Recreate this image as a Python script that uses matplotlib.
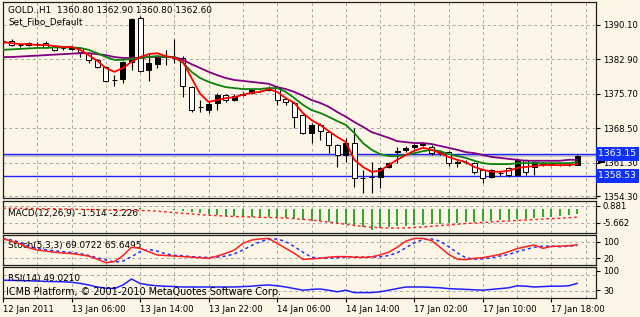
import numpy as np
import matplotlib.pyplot as plt
from matplotlib.patches import Rectangle
from matplotlib.transforms import blended_transform_factory

# ---- GOLD H1 candles (12 Jan 22:00 .. 17 Jan 21:00) ----
opens = [1386.5, 1386.75, 1385.9, 1386.0, 1386.2, 1386.3, 1385.5, 1385.2, 1385.1, 1385.3,
         1384.2, 1382.8, 1381.3, 1378.5, 1378.8, 1382.4, 1391.5, 1380.7, 1381.9, 1383.4,
         1383.5, 1383.2, 1377.1, 1372.9, 1372.3, 1373.8, 1375.4, 1374.4, 1375.5, 1375.8,
         1376.3, 1376.4, 1377.1, 1374.6, 1373.8, 1371.3, 1367.5, 1369.2, 1367.7, 1365.0,
         1362.9, 1365.4, 1358.1, 1358.2, 1358.3, 1360.4, 1363.6, 1364.0, 1364.5, 1365.0,
         1364.6, 1363.3, 1363.5, 1361.3, 1361.5, 1361.3, 1359.8, 1358.3, 1359.2, 1360.1,
         1358.7, 1361.8, 1360.4, 1361.1, 1360.9, 1360.8, 1360.9, 1360.8]
highs = [1387.0, 1387.2, 1386.3, 1386.6, 1386.6, 1386.8, 1385.8, 1385.6, 1385.7, 1385.6,
         1384.4, 1383.0, 1381.5, 1379.6, 1382.6, 1391.6, 1391.9, 1384.2, 1383.7, 1384.9,
         1387.2, 1383.6, 1377.3, 1374.4, 1373.9, 1375.8, 1375.7, 1375.6, 1376.0, 1376.7,
         1376.6, 1377.4, 1377.3, 1374.9, 1374.0, 1371.5, 1369.5, 1369.6, 1368.0, 1365.3,
         1366.5, 1368.5, 1359.8, 1361.4, 1360.4, 1361.5, 1364.6, 1364.7, 1365.2, 1365.6,
         1365.0, 1363.9, 1363.8, 1361.8, 1361.8, 1361.5, 1360.0, 1360.0, 1359.6, 1360.4,
         1362.2, 1362.0, 1361.7, 1361.5, 1361.2, 1361.2, 1361.2, 1362.9]
lows = [1386.2, 1385.7, 1385.5, 1385.8, 1385.7, 1385.3, 1384.6, 1384.9, 1384.9, 1383.4,
        1382.1, 1381.0, 1378.2, 1377.3, 1377.9, 1380.7, 1380.3, 1378.4, 1381.1, 1381.7,
        1382.1, 1375.0, 1372.0, 1371.9, 1371.6, 1372.3, 1374.0, 1374.2, 1375.2, 1375.6,
        1376.0, 1376.2, 1373.4, 1373.3, 1368.6, 1367.2, 1365.4, 1366.0, 1363.3, 1360.4,
        1361.4, 1356.2, 1355.0, 1355.0, 1356.0, 1360.1, 1361.3, 1363.6, 1364.2, 1364.7,
        1363.0, 1362.9, 1360.7, 1360.4, 1361.0, 1358.9, 1357.0, 1358.0, 1358.6, 1358.4,
        1358.5, 1358.7, 1358.8, 1360.6, 1360.5, 1360.5, 1360.6, 1360.8]
closes = [1386.7, 1385.9, 1385.95, 1386.3, 1386.1, 1385.5, 1384.9, 1385.3, 1385.4, 1384.4,
          1382.8, 1381.3, 1378.4, 1378.6, 1382.4, 1391.4, 1380.5, 1382.2, 1383.4, 1383.5,
          1383.3, 1377.3, 1372.3, 1373.0, 1373.6, 1375.4, 1374.4, 1375.2, 1375.6, 1376.4,
          1376.3, 1377.0, 1374.4, 1374.0, 1370.9, 1367.5, 1369.2, 1367.9, 1365.0, 1362.9,
          1365.4, 1358.1, 1358.0, 1358.3, 1360.2, 1361.2, 1363.8, 1364.4, 1364.9, 1365.3,
          1363.3, 1363.5, 1361.2, 1361.5, 1361.4, 1359.3, 1358.1, 1359.8, 1359.1, 1358.7,
          1361.8, 1359.3, 1361.4, 1361.0, 1360.9, 1360.9, 1360.8, 1362.6]

# moving averages
ma_red = [1386.5, 1386.3, 1386.1, 1386.1, 1385.9, 1385.9, 1385.7, 1385.5, 1385.5, 1384.9,
          1383.8, 1382.6, 1381.1, 1380.3, 1381.1, 1382.4, 1383.4, 1384.0, 1384.2, 1383.6,
          1383.2, 1382.4, 1379.0, 1375.7, 1374.0, 1374.4, 1374.8, 1375.0, 1375.5, 1375.9,
          1376.1, 1376.7, 1376.1, 1374.8, 1373.8, 1371.7, 1370.2, 1369.2, 1367.9, 1366.7,
          1365.6, 1361.9, 1360.4, 1359.4, 1359.6, 1360.8, 1361.9, 1362.9, 1363.8, 1364.4,
          1364.0, 1363.3, 1362.5, 1361.9, 1361.4, 1360.4, 1359.8, 1359.4, 1359.4, 1359.6,
          1360.2, 1360.4, 1360.6, 1360.8, 1360.8, 1360.8, 1360.8, 1361.0]
ma_green = [1384.9, 1385.0, 1385.1, 1385.2, 1385.3, 1385.3, 1385.4, 1385.4, 1385.4, 1385.3,
            1384.9, 1384.2, 1383.4, 1382.8, 1382.8, 1383.0, 1383.2, 1383.4, 1383.6, 1383.4,
            1383.4, 1382.2, 1380.3, 1379.0, 1378.2, 1377.6, 1377.1, 1376.9, 1376.7, 1376.7,
            1376.7, 1376.9, 1376.9, 1376.1, 1374.8, 1373.4, 1372.3, 1371.7, 1370.9, 1370.0,
            1369.2, 1367.5, 1365.4, 1364.0, 1363.1, 1362.7, 1362.7, 1362.9, 1363.3, 1363.7,
            1364.0, 1363.7, 1363.1, 1362.7, 1362.3, 1361.7, 1361.2, 1361.0, 1361.0, 1361.0,
            1361.2, 1361.2, 1361.2, 1361.2, 1361.2, 1361.2, 1361.2, 1361.4]
ma_purple = [1383.4, 1383.4, 1383.5, 1383.6, 1383.7, 1383.8, 1383.9, 1384.0, 1384.1, 1384.2,
             1384.2, 1384.0, 1383.8, 1383.4, 1383.2, 1383.2, 1383.2, 1383.4, 1383.4, 1383.4,
             1383.4, 1382.8, 1381.9, 1381.1, 1380.3, 1379.6, 1379.0, 1378.6, 1378.4, 1378.2,
             1378.0, 1377.8, 1377.1, 1376.7, 1376.1, 1375.3, 1374.4, 1373.8, 1373.0, 1371.9,
             1370.9, 1369.8, 1368.8, 1367.7, 1367.1, 1366.5, 1365.8, 1365.6, 1365.4, 1365.4,
             1365.2, 1364.8, 1364.4, 1364.0, 1363.5, 1363.3, 1362.9, 1362.5, 1362.3, 1362.1,
             1361.9, 1361.7, 1361.7, 1361.7, 1361.7, 1361.7, 1361.9, 1361.9]

# MACD(12,26,9)
macd_hist = [0.1, 0.1, 0.05, 0.05, 0.0, 0.0, -0.05, -0.05, -0.1, -0.1,
             -0.15, -0.2, -0.25, -0.3, -0.2, 0.1, 0.2, 0.1, 0.0, -0.1,
             -0.2, -0.5, -0.83, -1.1, -1.38, -1.65, -1.93, -1.93, -2.2, -2.2,
             -2.2, -2.2, -2.48, -2.48, -2.75, -3.03, -3.3, -3.3, -3.58, -3.85,
             -4.13, -4.68, -4.95, -5.66, -5.23, -4.95, -4.68, -4.68, -4.4, -4.4,
             -4.13, -4.13, -3.85, -3.85, -3.58, -3.58, -3.3, -3.3, -3.03, -3.03,
             -2.75, -2.75, -2.48, -2.2, -2.2, -1.93, -1.65, -1.51]
macd_signal = [0.2, 0.2, 0.18, 0.15, 0.12, 0.1, 0.05, 0.0, -0.05, -0.1,
               -0.15, -0.2, -0.28, -0.35, -0.4, -0.4, -0.4, -0.45, -0.6, -0.8,
               -1.0, -1.18, -1.35, -1.55, -1.7, -1.84, -1.95, -2.05, -2.12, -2.2,
               -2.28, -2.35, -2.39, -2.5, -2.65, -2.85, -3.03, -3.3, -3.6, -3.9,
               -4.2, -4.5, -4.8, -5.0, -5.15, -5.23, -5.23, -5.2, -5.1, -4.95,
               -4.75, -4.55, -4.4, -4.2, -4.0, -3.85, -3.7, -3.55, -3.4, -3.3,
               -3.15, -3.0, -2.9, -2.75, -2.65, -2.55, -2.4, -2.23]

# Stochastic(5,3,3)
stoch_k = [91, 82, 72, 58, 50, 46, 42, 39, 37, 33, 28, 17, 4, 8, 30, 60, 56, 44, 32, 30,
           28, 26, 24, 22, 20, 28, 38, 50, 74, 86, 90, 92, 74, 56, 38, 16, 18, 20, 24, 26,
           26, 24, 23, 25, 32, 42, 60, 82, 92, 92, 84, 60, 34, 17, 15, 20, 22, 28, 34, 44,
           55, 62, 68, 56, 63, 64, 65, 69.07]
stoch_d = [92, 86, 78, 64, 55, 51, 47, 44, 41, 37, 30, 22, 14, 6, 10, 26, 44, 52, 46, 36,
           31, 29, 26, 24, 23, 24, 28, 36, 50, 66, 80, 88, 90, 80, 62, 42, 24, 20, 20, 22,
           25, 25, 24, 24, 25, 30, 40, 58, 76, 88, 90, 82, 62, 40, 22, 17, 18, 22, 28, 34,
           44, 52, 60, 64, 64, 62, 64, 65.65]

# RSI(14)
rsi = [57, 56.5, 56, 55.5, 55, 54, 53.5, 53, 52, 49, 45, 40, 37, 36, 45, 60, 49, 45, 43, 42,
       41, 40, 40, 40, 40, 40, 40, 40, 41, 42, 44, 45, 43, 40, 36, 32, 34, 35, 32, 28,
       32, 26, 26, 26, 28, 32, 36, 40, 40, 40, 39, 38, 36, 35, 34, 33, 32, 34, 36, 38,
       43, 42, 40, 41, 42, 42, 43, 49.02]

price_ticks = [1390.10, 1382.90, 1375.70, 1368.50, 1361.30, 1354.30]
fibo_levels = [1363.15, 1358.53]
last_price = 1362.60
time_labels = ['12 Jan 2011', '13 Jan 06:00', '13 Jan 14:00', '13 Jan 22:00', '14 Jan 06:00',
               '14 Jan 14:00', '17 Jan 02:00', '17 Jan 10:00', '17 Jan 18:00']

W, H = 640, 317
BG = '#fdf6e6'
GRID = dict(color='#a8a8a8', linestyle=(0, (3, 3)), linewidth=0.7)
FS = 6.1

fig = plt.figure(figsize=(W / 100, H / 100), dpi=100, facecolor=BG)
plt.rcParams['font.family'] = ['DejaVu Sans']

n = len(closes)
idx = np.arange(n)
xmax = 593 / 8.57


def panel(top, bottom):
    ax = fig.add_axes([3 / W, 1 - bottom / H, 593 / W, (bottom - top) / H], facecolor=BG)
    ax.set_xlim(0, xmax)
    ax.set_xticks(np.arange(0, xmax, 8))
    ax.set_xticks(np.arange(4, xmax, 8), minor=True)
    ax.tick_params(axis='x', which='both', length=0, labelbottom=False)
    ax.yaxis.tick_right()
    ax.tick_params(axis='y', length=3, width=0.8, pad=2, labelsize=FS, colors='black')
    ax.grid(True, which='both', axis='x', **GRID)
    ax.grid(True, which='major', axis='y', **GRID)
    for s in ax.spines.values():
        s.set_color('#202020')
        s.set_linewidth(0.9)
    ax.set_axisbelow(True)
    return ax


# ---- main price panel ----
ax = panel(2, 198)
ax.set_ylim(1353.91, 1394.91)
ax.set_yticks(price_ticks, ['%.2f' % p for p in price_ticks])

O, Hh, L, C = map(np.array, (opens, highs, lows, closes))
ax.vlines(idx, L, Hh, color='black', lw=0.8, zorder=3)
bull = C >= O
body = np.maximum(np.abs(C - O), 0.05)
ax.bar(idx, body, bottom=np.minimum(O, C), width=0.58,
       color=np.where(bull, 'black', 'white'), edgecolor='black', lw=0.7, zorder=4)

ax.plot(idx, ma_purple, color='#800080', lw=1.3, zorder=5)
ax.plot(idx, ma_green, color='#0a820a', lw=1.3, zorder=5)
ax.plot(idx, ma_red, color='#ff0000', lw=1.3, zorder=6)

for lv in fibo_levels:
    ax.axhline(lv, color='#2020ff', lw=1.0, zorder=2)
ax.axhline(last_price, color='#c0c0c0', lw=1.2, zorder=1)

tr = blended_transform_factory(ax.transAxes, ax.transData)
# bid-price box mostly hidden behind the fibo label
ax.add_patch(Rectangle((1.003, last_price - 1.45), 0.012, 1.2, transform=tr,
                       fc='black', ec='none', clip_on=False, zorder=8))
for lv in fibo_levels:
    ax.text(1.004, lv, '%.2f' % lv, transform=tr, fontsize=FS + 0.6, color='white',
            va='center', ha='left', clip_on=False, zorder=9,
            bbox=dict(boxstyle='square,pad=0.25', fc='#1030ff', ec='none'))

fig.text(8 / W, 1 - 10 / H, 'GOLD.,H1  1360.80 1362.90 1360.80 1362.60', fontsize=FS + 0.3,
         va='center', ha='left')
fig.text(8 / W, 1 - 22 / H, 'Set_Fibo_Default', fontsize=FS + 0.3, va='center', ha='left')

# ---- MACD panel ----
axm = panel(201, 233)
axm.set_ylim(-6.6, 2.2)
axm.set_yticks([0.881, -3.8], ['0.881', '-5.662'])
axm.vlines(idx, 0, macd_hist, color='#22a022', lw=1.3, zorder=3)
axm.plot(idx, macd_signal, color='#ff2020', lw=1.0, linestyle=(0, (2, 2)), zorder=4)
axm.text(5 / 593, 0.62, 'MACD(12,26,9) -1.514 -2.226', transform=axm.transAxes,
         fontsize=FS + 0.3, va='center', ha='left')

# ---- Stochastic panel ----
axs = panel(235, 265)
axs.set_ylim(-4.3, 104.3)
axs.set_yticks([80, 20], ['100', '20'])
axs.grid(False, axis='y')
for lv in (80, 20):
    axs.axhline(lv, **GRID)
axs.plot(idx, stoch_d, color='#2030ff', lw=1.1, linestyle=(0, (2, 2)), zorder=3)
axs.plot(idx, stoch_k, color='#ff2020', lw=1.1, zorder=4)
axs.text(5 / 593, 0.66, 'Stoch(5,3,3) 69.0722 65.6495', transform=axs.transAxes,
         fontsize=FS + 0.3, va='center', ha='left')

# ---- RSI panel ----
axr = panel(267, 298)
axr.set_ylim(12.5, 90)
axr.set_yticks([80, 32], ['100', '30'])
axr.grid(False, axis='y')
for lv in (70, 30):
    axr.axhline(lv, **GRID)
axr.plot(idx, rsi, color='#2020ff', lw=1.1, zorder=3)
axr.text(5 / 593, 0.63, 'RSI(14) 49.0210', transform=axr.transAxes,
         fontsize=FS + 0.3, va='center', ha='left')
axr.text(3 / 593, 0.2, 'ICMB Platform, \u00a9 2001-2010 MetaQuotes Software Corp.',
         transform=axr.transAxes, fontsize=6.9, va='center', ha='left')

axr.tick_params(axis='x', which='major', length=3, width=0.8, labelbottom=True,
                labelsize=FS, pad=2)
axr.set_xticklabels(time_labels, ha='left')

fig.savefig('out.png', dpi=100, facecolor=BG)
